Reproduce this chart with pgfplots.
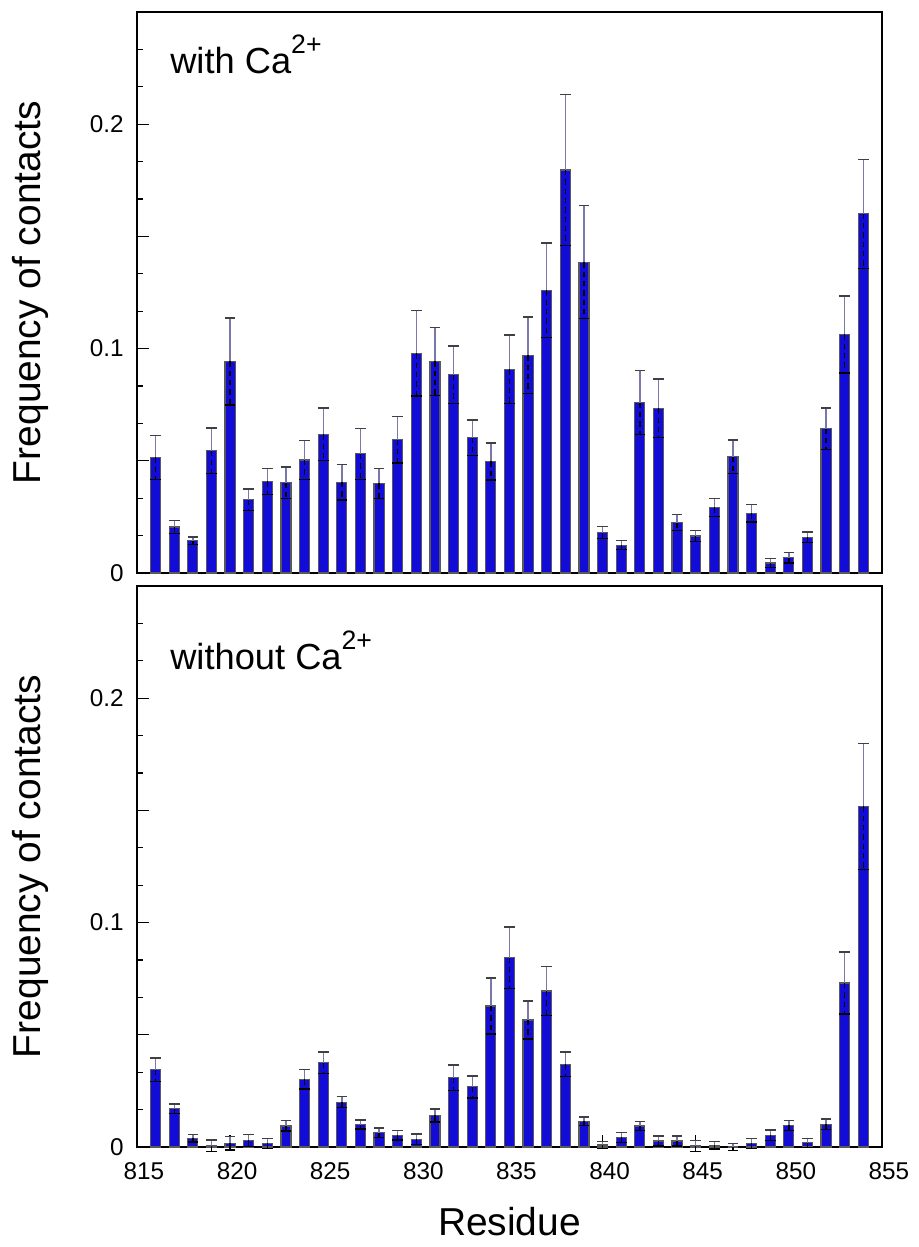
\documentclass[border=0pt]{standalone}
\usepackage{pgfplots}
\usepackage{pgfplotstable}
\usepackage{fontspec}
\setmainfont{Liberation Sans}
\pgfplotsset{compat=1.18}
\definecolor{barblue}{RGB}{18,12,214}
\definecolor{errup}{RGB}{120,120,170}

\pgfplotstableread{
x y e
816 0.0515 0.0097
817 0.0205 0.0030
818 0.0144 0.0016
819 0.0545 0.0101
820 0.0943 0.0194
821 0.0327 0.0047
822 0.0408 0.0059
823 0.0402 0.0070
824 0.0504 0.0087
825 0.0618 0.0117
826 0.0405 0.0080
827 0.0531 0.0113
828 0.0399 0.0068
829 0.0594 0.0104
830 0.0979 0.0190
831 0.0943 0.0152
832 0.0884 0.0128
833 0.0603 0.0079
834 0.0497 0.0082
835 0.0908 0.0153
836 0.0970 0.0171
837 0.1260 0.0210
838 0.1796 0.0337
839 0.1385 0.0252
840 0.0180 0.0027
841 0.0124 0.0020
842 0.0759 0.0143
843 0.0734 0.0131
844 0.0225 0.0037
845 0.0165 0.0024
846 0.0292 0.0041
847 0.0518 0.0074
848 0.0266 0.0038
849 0.0045 0.0021
850 0.0068 0.0024
851 0.0159 0.0023
852 0.0643 0.0092
853 0.1063 0.0172
854 0.1601 0.0243
}\withCa

\pgfplotstableread{
x y e
816 0.0345 0.0052
817 0.0170 0.0021
818 0.0039 0.0016
819 0.0006 0.0025
820 0.0016 0.0030
821 0.0030 0.0027
822 0.0016 0.0023
823 0.0094 0.0023
824 0.0302 0.0043
825 0.0376 0.0047
826 0.0200 0.0025
827 0.0100 0.0020
828 0.0063 0.0022
829 0.0052 0.0021
830 0.0034 0.0024
831 0.0141 0.0029
832 0.0309 0.0057
833 0.0268 0.0049
834 0.0628 0.0125
835 0.0844 0.0137
836 0.0566 0.0085
837 0.0695 0.0109
838 0.0369 0.0055
839 0.0115 0.0018
840 0.0009 0.0015
841 0.0043 0.0023
842 0.0094 0.0021
843 0.0027 0.0022
844 0.0027 0.0022
845 0.0005 0.0024
846 0.0008 0.0017
847 0.0000 0.0016
848 0.0016 0.0023
849 0.0052 0.0024
850 0.0097 0.0022
851 0.0019 0.0020
852 0.0101 0.0024
853 0.0731 0.0138
854 0.1518 0.0280
}\withoutCa

\pgfplotsset{
  panel/.style={
    width=279.375pt, height=210.375pt,
    scale only axis,
    xmin=815, xmax=855,
    ymin=0, ymax=0.25,
    axis line style={line width=1pt},
    tick align=inside,
    tick pos=left,
    xtick={815,820,...,855},
    ytick={0,0.05,...,0.25},
    yticklabels={0,,0.1,,0.2,},
    minor y tick num=2,
    major tick length=4.5pt,
    minor tick length=2.4pt,
    every tick/.style={black, line width=0.5pt},
    tick label style={font=\fontsize{9.1}{10}\selectfont},
    yticklabel style={xshift=-1.5pt},
    xticklabel style={xshift=2.6pt, yshift=-2.3pt},
    /pgf/number format/assume math mode=true,
    ylabel={Frequency of contacts},
    ylabel style={at={(axis description cs:-0.1436,0.5)}, anchor=center, font=\fontsize{14.6}{16}\selectfont},
    clip=false,
  },
  bars/.style={ybar, mark=none, bar width=0.54, bar shift=0pt, fill=barblue, draw=black!65, line width=0.45pt},
  errplus/.style={draw=none, mark=none,
    error bars/.cd, y dir=plus, y explicit,
    error bar style={draw=errup, line width=0.5pt, solid},
    error mark options={rotate=90, mark size=2.0pt, draw=black!75, line width=0.5pt}},
  errminus/.style={draw=none, mark=none,
    error bars/.cd, y dir=minus, y explicit,
    error bar style={draw=black, line width=0.5pt, dash pattern=on 2pt off 1.5pt},
    error mark options={rotate=90, mark size=2.0pt, draw=black, line width=0.5pt, solid}},
}

\begin{document}
\begin{tikzpicture}
\path (-51.375pt,-252.75pt) rectangle (290.625pt,214.875pt);
\begin{axis}[panel, at={(0pt,0pt)}, anchor=south west, xticklabels={}]
  \addplot[bars] table[x=x,y=y]{\withCa};
  \addplot[errplus] table[x=x,y=y,y error=e]{\withCa};
  \addplot[errminus] table[x=x,y=y,y error=e]{\withCa};
  \node[anchor=west, font=\fontsize{13.6}{15}\selectfont, inner sep=0pt] at (axis description cs:0.044,0.925)
    {with Ca\raisebox{0.55em}{\fontsize{10}{10}\selectfont 2+}};
\end{axis}
\begin{axis}[panel, at={(0pt,-4.875pt)}, anchor=north west,
    xlabel={Residue},
    xlabel style={at={(axis description cs:0.5,0)}, anchor=center, yshift=-28.1pt, font=\fontsize{14.6}{16}\selectfont}]
  \addplot[bars] table[x=x,y=y]{\withoutCa};
  \addplot[errplus] table[x=x,y=y,y error=e]{\withoutCa};
  \addplot[errminus] table[x=x,y=y,y error=e]{\withoutCa};
  \node[anchor=west, font=\fontsize{13.6}{15}\selectfont, inner sep=0pt] at (axis description cs:0.044,0.886)
    {without Ca\raisebox{0.55em}{\fontsize{10}{10}\selectfont 2+}};
\end{axis}
\end{tikzpicture}
\end{document}
